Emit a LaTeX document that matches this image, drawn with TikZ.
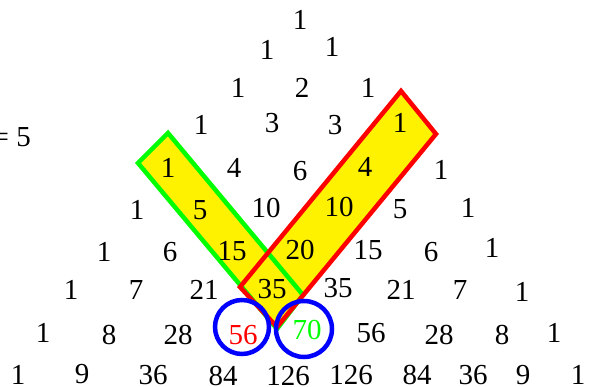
\documentclass[tikz,border=0pt]{standalone}
\usepackage{fontspec}
\setmainfont{Liberation Serif}
\begin{document}
\begin{tikzpicture}[x=1pt,y=-1pt,
  num/.style={inner sep=0pt,font=\fontsize{29}{30}\selectfont},
  edge/.style={line width=4.5pt,line join=miter},
  ring/.style={draw=blue,line width=4.5pt}]
\useasboundingbox (0,0) rectangle (600,387);
\coordinate (g1) at (168,133); \coordinate (g2) at (138,163);
\coordinate (g3) at (277,329); \coordinate (g4) at (303,295);
\coordinate (r1) at (401,91); \coordinate (r2) at (436,134);
\coordinate (r3) at (277,327); \coordinate (r4) at (240,287);
% band fills
\fill[yellow] (g1) -- (g2) -- (g3) -- (g4) -- cycle;
\fill[yellow] (r1) -- (r2) -- (r3) -- (r4) -- cycle;
% band borders
\draw[edge,draw=green] (g1) -- (g2) -- (g3) -- (g4) -- cycle;
\draw[edge,draw=red] (r1) -- (r2) -- (r3) -- (r4) -- cycle;
% circles
\node[ring,circle,minimum size=54pt,inner sep=0pt] (c1) at (242,327) {};
\node[ring,circle,minimum size=56pt,inner sep=0pt] (c2) at (304,329) {};
% label
\node[num,anchor=east] (lab) at (31,137) {= 5};
% row 0
\node[num] (a00) at (300,20) {1};
% row 1
\node[num] (a10) at (267,50) {1};
\node[num] (a11) at (332,47) {1};
% row 2
\node[num] (a20) at (238,88) {1};
\node[num] (a21) at (302,88) {2};
\node[num] (a22) at (368,88) {1};
% row 3
\node[num] (a30) at (201,125) {1};
\node[num] (a31) at (272,123) {3};
\node[num] (a32) at (335,125) {3};
\node[num] (a33) at (400,123) {1};
% row 4
\node[num] (a40) at (168,168) {1};
\node[num] (a41) at (234,168) {4};
\node[num] (a42) at (300,171) {6};
\node[num] (a43) at (365,167) {4};
\node[num] (a44) at (441,170) {1};
% row 5
\node[num] (a50) at (137,210) {1};
\node[num] (a51) at (200,210) {5};
\node[num] (a52) at (266,208) {10};
\node[num] (a53) at (339,207) {10};
\node[num] (a54) at (400,209) {5};
\node[num] (a55) at (468,208) {1};
% row 6
\node[num] (a60) at (104,252) {1};
\node[num] (a61) at (170,252) {6};
\node[num] (a62) at (232,251) {15};
\node[num] (a63) at (300,250) {20};
\node[num] (a64) at (368,250) {15};
\node[num] (a65) at (431,252) {6};
\node[num] (a66) at (492,248) {1};
% row 7
\node[num] (a70) at (71,290) {1};
\node[num] (a71) at (136,290) {7};
\node[num] (a72) at (204,290) {21};
\node[num] (a73) at (272,289) {35};
\node[num] (a74) at (338,288) {35};
\node[num] (a75) at (401,290) {21};
\node[num] (a76) at (460,290) {7};
\node[num] (a77) at (522,292) {1};
% row 8
\node[num] (a80) at (43,333) {1};
\node[num] (a81) at (109,335) {8};
\node[num] (a82) at (178,335) {28};
\node[num,text=red] (a83) at (243,335) {56};
\node[num,text=green] (a84) at (307,330) {70};
\node[num] (a85) at (371,333) {56};
\node[num] (a86) at (439,335) {28};
\node[num] (a87) at (502,335) {8};
\node[num] (a88) at (554,333) {1};
% row 9
\node[num] (a90) at (18,375) {1};
\node[num] (a91) at (82,374) {9};
\node[num] (a92) at (153,375) {36};
\node[num] (a93) at (223,376) {84};
\node[num] (a94) at (288,376) {126};
\node[num] (a95) at (351,375) {126};
\node[num] (a96) at (417,375) {84};
\node[num] (a97) at (473,375) {36};
\node[num] (a98) at (523,375) {9};
\node[num] (a99) at (578,375) {1};
\end{tikzpicture}
\end{document}
